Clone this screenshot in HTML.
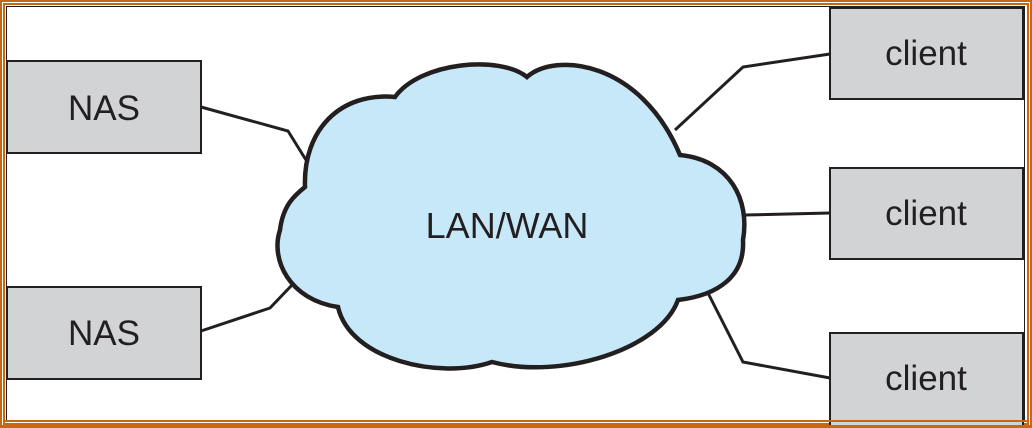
<!DOCTYPE html>
<html><head><style>
html,body{margin:0;padding:0;background:#fff;}
svg{display:block;}
text{font-family:"Liberation Sans",Arial,sans-serif;fill:#231f20;}
</style></head><body>
<svg width="1032" height="428" viewBox="0 0 1032 428" xmlns="http://www.w3.org/2000/svg">
<rect x="0" y="0" width="1032" height="428" fill="#fff"/>
<rect x="1" y="1" width="1030" height="426" fill="none" stroke="#c8670f" stroke-width="2"/>
<rect x="4" y="4" width="1024" height="420" fill="none" stroke="#c8670f" stroke-width="2"/>
<rect x="6.5" y="6.5" width="1018" height="414" fill="none" stroke="#231f20" stroke-width="1"/>
<g fill="none" stroke="#231f20" stroke-width="3" stroke-linejoin="miter">
<polyline points="201,107 288,131 306,160"/>
<polyline points="201,331 270,308 292,285"/>
<polyline points="675,130 743,67 830,54"/>
<polyline points="745,215 830,213"/>
<polyline points="708,293 743,362 830,378"/>
</g>
<path d="M395,97 C420,62 500,55 527,77 C555,52 640,60 680,155 C730,160 750,200 743,240 C745,275 720,295 678,300 C660,350 560,380 492,362 C440,380 350,360 338,307 C290,300 270,260 280,230 C283,205 295,195 305,187 C303,130 340,92 395,97 Z" fill="#c7e8f8" stroke="#231f20" stroke-width="4.5"/>
<text x="507" y="238" font-size="36" text-anchor="middle">LAN/WAN</text>
<g fill="#d1d3d4" stroke="#231f20" stroke-width="2">
<rect x="7" y="61" width="194" height="92"/>
<rect x="7" y="287" width="194" height="92"/>
<rect x="830" y="8" width="193" height="91"/>
<rect x="830" y="168" width="193" height="91"/>
<rect x="830" y="333" width="193" height="100"/>
</g>
<g font-size="35" text-anchor="middle">
<text x="104" y="120">NAS</text>
<text x="104" y="345">NAS</text>
<text x="926" y="65">client</text>
<text x="926" y="225">client</text>
<text x="926" y="390">client</text>
</g>
<rect x="3" y="420" width="1026" height="2" fill="#c8670f"/>
<rect x="1" y="425" width="1030" height="3" fill="#c8670f"/>
</svg>
</body></html>
